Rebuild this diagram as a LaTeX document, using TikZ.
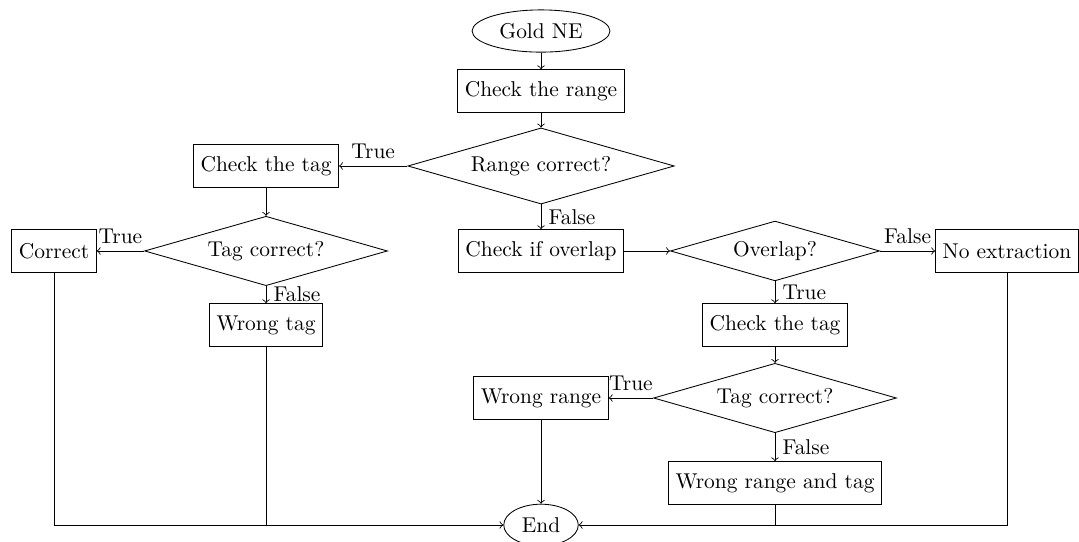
\documentclass[tikz,border=0pt]{standalone}
\usepackage{amsmath}
\usepackage{tikz}
\usetikzlibrary{shapes.geometric,positioning}

\begin{document}
\begin{tikzpicture}[auto,
  term/.style={draw,ellipse},
  proc/.style={draw,rectangle,minimum height=0.7cm},
  decision/.style={draw,diamond,aspect=3.5,inner sep=3pt}]
  \useasboundingbox (0,0) rectangle (17.7,-8.875);
  \node[term] (gold) at (8.875,-0.509) {Gold NE};
  \node[proc] (range) at (8.875,-1.493) {Check the range};
  \node[decision] (rangeok) at (8.875,-2.723) {Range correct?};
  \node[proc] (tagA) at (4.364,-2.723) {Check the tag};
  \node[decision] (tagokA) at (4.364,-4.117) {Tag correct?};
  \node[proc] (correct) at (0.886,-4.117) {Correct};
  \node[proc] (wrongtag) at (4.364,-5.331) {Wrong tag};
  \node[proc] (overlap) at (8.875,-4.117) {Check if overlap};
  \node[decision] (overlapok) at (12.713,-4.117) {Overlap?};
  \node[proc] (noext) at (16.519,-4.117) {No extraction};
  \node[proc] (tagB) at (12.713,-5.331) {Check the tag};
  \node[decision] (tagokB) at (12.713,-6.529) {Tag correct?};
  \node[proc] (wrongrange) at (8.875,-6.529) {Wrong range};
  \node[proc] (wrongboth) at (12.713,-7.923) {Wrong range and tag};
  \node[term] (end) at (8.875,-8.612) {End};
  \path[->]
    (gold) edge node {} (range)
    (range) edge node {} (rangeok)
    (rangeok) edge node[above] {True} (tagA)
    (rangeok) edge node[right] {False} (overlap)
    (tagA) edge node {} (tagokA)
    (tagokA) edge node[above] {True} (correct)
    (tagokA) edge node[right] {False} (wrongtag)
    (overlap) edge node {} (overlapok)
    (overlapok) edge node[above] {False} (noext)
    (overlapok) edge node[right] {True} (tagB)
    (tagB) edge node {} (tagokB)
    (tagokB) edge node[above] {True} (wrongrange)
    (tagokB) edge node[right] {False} (wrongboth)
    (wrongrange) edge node {} (end);
  \draw[->] (correct) |- (end);
  \draw[->] (noext) |- (end);
  \draw (wrongtag) -- (wrongtag |- end);
  \draw (wrongboth) -- (wrongboth |- end);
\end{tikzpicture}
\end{document}
